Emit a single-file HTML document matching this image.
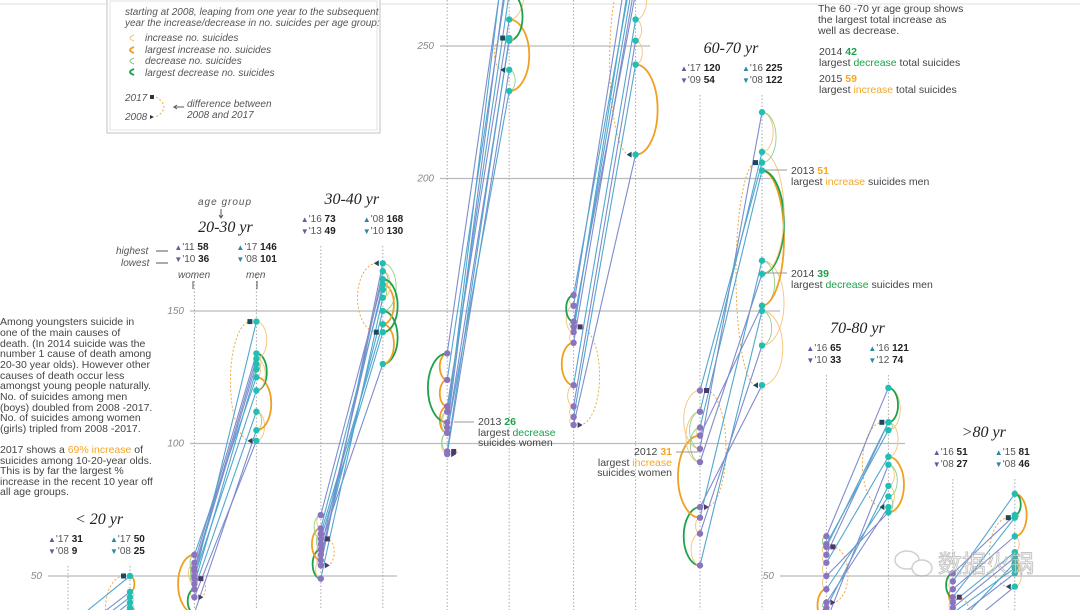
<!DOCTYPE html>
<html><head><meta charset="utf-8">
<style>
html,body{margin:0;background:#fff;width:1080px;height:610px;overflow:hidden;font-family:"Liberation Sans",sans-serif;}
svg{display:block}
.t{font-size:10.5px;fill:#444}
.it{font-style:italic;font-size:10px;fill:#555}
.ttl{font-family:"Liberation Serif",serif;font-style:italic;font-size:16px;fill:#222}
.st{font-size:10px;fill:#555}
.b{font-weight:bold;fill:#222}
.ax{font-style:italic;font-size:10px;fill:#888}
</style></head><body>
<svg id="chart" width="1080" height="610" viewBox="0 0 1080 610">
<line x1="0" y1="4" x2="1080" y2="4" stroke="#ddd"/>
<g id="grid"></g>
<g id="marks"></g>
<g>
<rect x="107" y="-2" width="273" height="135" fill="#fff" stroke="#ccc" stroke-width="1.2"/>
<rect x="110" y="1" width="267" height="129" fill="none" stroke="#e2e2e2"/>
<text class="it" x="125" y="15">starting at 2008, leaping from one year to the subsequent</text>
<text class="it" x="125" y="26">year the increase/decrease in no. suicides per age group:</text>
<path d="M134 35 q-8 3 0 6" fill="none" stroke="#f6c27a" stroke-width="1"/><text class="it" x="145" y="41">increase no. suicides</text>
<path d="M134 47 q-8 3 0 6" fill="none" stroke="#f0a020" stroke-width="2"/><text class="it" x="145" y="53">largest increase no. suicides</text>
<path d="M134 58 q-8 3 0 6" fill="none" stroke="#7cc87a" stroke-width="1"/><text class="it" x="145" y="64">decrease no. suicides</text>
<path d="M134 69 q-8 3 0 6" fill="none" stroke="#1ca24a" stroke-width="2"/><text class="it" x="145" y="76">largest decrease no. suicides</text>
<text class="it" x="125" y="101">2017</text><rect x="150" y="95" width="4" height="4" fill="#333"/>
<text class="it" x="125" y="120">2008</text><path d="M150 115 l4 2 -4 2z" fill="#333"/>
<path d="M156 97 q16 10 0 20" fill="none" stroke="#f0a840" stroke-dasharray="2 2"/>
<text class="it" x="187" y="107">difference between</text><text class="it" x="187" y="118">2008 and 2017</text>
<path d="M184 107 h-10 l3 -2 m-3 2 l3 2" fill="none" stroke="#555"/>
</g>
<g>
<text class="it" x="198" y="205" style="letter-spacing:1px">age group</text>
<path d="M221 209 v9 m-2 -3 l2 3 2 -3" stroke="#555" fill="none"/>
<text class="it" x="116" y="254">highest</text><text class="it" x="121" y="266">lowest</text>
<path d="M156 251 h12 M156 263 h12" stroke="#555"/>
<text class="it" x="178" y="278">women</text><text class="it" x="246" y="278">men</text>
<path d="M193 281 v8 M257 281 v8" stroke="#555"/>
<text class="t" x="0" y="325">Among youngsters suicide in</text>
<text class="t" x="0" y="336">one of the main causes of</text>
<text class="t" x="0" y="347">death. (In 2014 suicide was the</text>
<text class="t" x="0" y="357">number 1 cause of death among</text>
<text class="t" x="0" y="368">20-30 year olds). However other</text>
<text class="t" x="0" y="379">causes of death occur less</text>
<text class="t" x="0" y="389">amongst young people naturally.</text>
<text class="t" x="0" y="400">No. of suicides among men</text>
<text class="t" x="0" y="411">(boys) doubled from 2008 -2017.</text>
<text class="t" x="0" y="421">No. of suicides among women</text>
<text class="t" x="0" y="432">(girls) tripled from 2008 -2017.</text>
<text class="t" x="0" y="453">2017 shows a <tspan fill="#f5a623">69% increase</tspan> of</text>
<text class="t" x="0" y="464">suicides among 10-20-year olds.</text>
<text class="t" x="0" y="474">This is by far the largest %</text>
<text class="t" x="0" y="485">increase in the recent 10 year off</text>
<text class="t" x="0" y="495">all age groups.</text>
<text class="t" x="478" y="425">2013 <tspan font-weight="bold" fill="#1ca24a">26</tspan></text>
<text class="t" x="478" y="436">largest <tspan fill="#1ca24a">decrease</tspan></text>
<text class="t" x="478" y="446">suicides women</text>
<line x1="454" y1="422" x2="474" y2="422" stroke="#999"/>
<text class="t" x="672" y="455" text-anchor="end">2012 <tspan font-weight="bold" fill="#f5a623">31</tspan></text>
<text class="t" x="672" y="466" text-anchor="end">largest <tspan fill="#f5a623">increase</tspan></text>
<text class="t" x="672" y="476" text-anchor="end">suicides women</text>
<line x1="676" y1="452" x2="698" y2="452" stroke="#999"/>
<text class="t" x="818" y="12">The 60 -70 yr age group shows</text>
<text class="t" x="818" y="23">the largest total increase as</text>
<text class="t" x="818" y="34">well as decrease.</text>
<text class="t" x="819" y="55">2014 <tspan font-weight="bold" fill="#1ca24a">42</tspan></text>
<text class="t" x="819" y="66">largest <tspan fill="#1ca24a">decrease</tspan> total suicides</text>
<text class="t" x="819" y="82">2015 <tspan font-weight="bold" fill="#f5a623">59</tspan></text>
<text class="t" x="819" y="93">largest <tspan fill="#f5a623">increase</tspan> total suicides</text>
<text class="t" x="791" y="174">2013 <tspan font-weight="bold" fill="#f5a623">51</tspan></text>
<text class="t" x="791" y="185">largest <tspan fill="#f5a623">increase</tspan> suicides men</text>
<line x1="765" y1="170" x2="787" y2="170" stroke="#999"/>
<text class="t" x="791" y="277">2014 <tspan font-weight="bold" fill="#1ca24a">39</tspan></text>
<text class="t" x="791" y="288">largest <tspan fill="#1ca24a">decrease</tspan> suicides men</text>
<line x1="765" y1="273" x2="787" y2="273" stroke="#999"/>
<g opacity="0.55">
<ellipse cx="907" cy="560" rx="12" ry="9" fill="none" stroke="#aaa" stroke-width="1.5"/>
<ellipse cx="922" cy="568" rx="10" ry="8" fill="#fff" stroke="#aaa" stroke-width="1.5"/>
<text x="938" y="572" font-family="'Noto Sans CJK SC',sans-serif" font-size="24" fill="#fff" stroke="#999" stroke-width="1">数据火锅</text>
</g>
</g>
<g id="labels"></g>
</svg>
<script>
// data: suicides per year 2008..2017 for each age group, women and men
const years = [2008,2009,2010,2011,2012,2013,2014,2015,2016,2017];
const groupNames = ["< 20 yr","20-30 yr","30-40 yr","40-50 yr","50-60 yr","60-70 yr","70-80 yr",">80 yr"];
const women_u20 = [9,14,12,17,20,18,22,24,26,31];
const men_u20 = [25,30,28,33,38,36,40,42,44,50];
const women_20_30 = [42,45,36,58,52,47,55,50,53,49];
const men_20_30 = [101,112,105,125,130,128,134,120,132,146];
const women_30_40 = [54,58,62,66,60,49,56,68,73,64];
const men_30_40 = [168,150,130,145,160,155,165,158,162,142];
const women_40_50 = [96,104,114,124,134,108,106,112,104,97];
const men_40_50 = [241,233,260,280,295,300,285,270,252,253];
const women_50_60 = [107,110,114,122,138,142,152,156,146,144];
const men_50_60 = [209,243,252,260,275,290,300,285,270,280];
const women_60_70 = [76,54,66,72,103,106,93,112,98,120];
const men_60_70 = [122,150,137,169,152,203,164,210,225,206];
const women_70_80 = [40,38,33,45,50,55,58,62,65,61];
const men_70_80 = [76,84,92,80,74,95,108,105,121,108];
const women_80 = [27,30,33,36,38,40,45,48,51,42];
const men_80 = [46,55,51,53,57,59,65,81,73,72];
const womenSeries = [women_u20,women_20_30,women_30_40,women_40_50,women_50_60,women_60_70,women_70_80,women_80];
const menSeries = [men_u20,men_20_30,men_30_40,men_40_50,men_50_60,men_60_70,men_70_80,men_80];
const gridTicks = [50,100,150,200,250];
const statW = [["'17","31","'08"," 9"],["'11","58","'10","36"],["'16","73","'13","49"],null,null,["'17","120","'09"," 54"],["'16","65","'10","33"],["'16","51","'08","27"]];
const statM = [["'17","50","'08","25"],["'17","146","'08","101"],["'08","168","'10","130"],null,null,["'16","225","'08","122"],["'16","121","'12"," 74"],["'15","81","'08","46"]];

const NS="http://www.w3.org/2000/svg";
const y = v => 708.5 - 2.65*v;
const colW = i => 68 + i*126.4;
const colM = i => colW(i) + 62;
function mk(tag, attrs, parent){const e=document.createElementNS(NS,tag);for(const k in attrs)e.setAttribute(k,attrs[k]);parent.appendChild(e);return e;}
const grid=document.getElementById('grid'), marks=document.getElementById('marks'), labels=document.getElementById('labels');
const gridSpans=[[[48,397],[780,1080]],[[190,905]],[[190,780]],[[440,775]],[[440,650]]];
gridTicks.forEach((t,k)=>{
  gridSpans[k].forEach(s=>{
    const l=mk('line',{x1:s[0],x2:s[1],y1:y(t),y2:y(t),stroke:'#bbb','stroke-width':1.2},grid);
    
    
    const tx=mk('text',{x:s[0]-6,y:y(t)+3,'text-anchor':'end',class:'ax'},grid);
    tx.textContent=t;
    
    
  });
});
const titleY=[524,232,204,-50,-50,53,333,437];
// side: -1 = bulge left, 1 = bulge right
function arcPath(x,y1,y2,side,maxW){
  const dy=Math.abs(y2-y1)||1;
  const ry=dy/2, rx=Math.min(Math.max(dy*0.28,4),maxW);
  const down=y2>y1;
  const sweep = side<0 ? (down?0:1) : (down?1:0);
  return `M${x} ${y1} A${rx} ${ry} 0 0 ${sweep} ${x} ${y2}`;
}
function arcs(x,vals,side,g,name){
  const d=vals.map((v,i)=>i?v-vals[i-1]:0).slice(1);
  const maxInc=Math.max(...d), maxDec=Math.min(...d);
  for(let i=1;i<vals.length;i++){
    const inc=vals[i]>vals[i-1];
    const big=(inc&&d[i-1]===maxInc)||(!inc&&d[i-1]===maxDec);
    const p=mk('path',{d:arcPath(x,y(vals[i-1]),y(vals[i]),side,22),fill:'none',
      stroke: inc?(big?'#f0a020':'#f6c27a'):(big?'#1ca24a':'#8fd08a'),'stroke-width':big?1.8:0.9},g);
    
    
  }
  const p=mk('path',{d:arcPath(x-side*6,y(vals[0]),y(vals[vals.length-1]),-side,20),fill:'none',stroke:'#f0a840','stroke-dasharray':'2 2'},g);
  
  
}
womenSeries.forEach((W,gi)=>{
  const M=menSeries[gi], xw=colW(gi), xm=colM(gi);
  const g=mk('g',{},marks);
  
  
  const top=titleY[gi]>0?titleY[gi]+42:0;
  [xw,xm].forEach(x=>{const l=mk('line',{x1:x,x2:x,y1:top,y2:610,stroke:'#aaa','stroke-dasharray':'1.5 2'},g);
    
    });
  arcs(xw,W,-1,g,'women');
  arcs(xm,M,1,g,'men');
  W.forEach((w,i)=>{
    const l=mk('line',{x1:xw,y1:y(w),x2:xm,y2:y(M[i]),stroke:i%2?'#52a6cf':'#7e8ccc','stroke-width':1.1},g);
    
    
  });
  W.forEach((w,i)=>{
    const c=mk('circle',{cx:xw,cy:y(w),r:3.2,fill:'#8a74c0'},g);
    
    
  });
  M.forEach((m,i)=>{
    const c=mk('circle',{cx:xm,cy:y(m),r:3.2,fill:'#22bdb3'},g);
    
    
  });
  const wl=W.length-1;
  const s1=mk('rect',{x:xw+4,y:y(W[wl])-2.5,width:5,height:5,fill:'#4a3a6a'},g);
  
  
  const t1=mk('path',{d:`M${xw+4} ${y(W[0])-3} l5 3 -5 3z`,fill:'#4a3a6a'},g);
  
  
  const s2=mk('rect',{x:xm-9,y:y(M[wl])-2.5,width:5,height:5,fill:'#1c4a5a'},g);
  
  
  const t2=mk('path',{d:`M${xm-4} ${y(M[0])-3} l-5 3 5 3z`,fill:'#1c4a5a'},g);
  
  
  if(titleY[gi]>0){
    const tt=mk('text',{x:(xw+xm)/2,y:titleY[gi],'text-anchor':'middle',class:'ttl'},labels);
    tt.textContent=groupNames[gi];
    
    
    [[statW[gi],xw,'#6a5a9a'],[statM[gi],xm,'#2a8aa0']].forEach(([s,x,c])=>{
      const a=mk('text',{x:x-20,y:titleY[gi]+18,class:'st'},labels);
      a.innerHTML=`<tspan fill="${c}" font-size="8">▲</tspan>${s[0]} <tspan class="b">${s[1]}</tspan>`;
      
      
      const b=mk('text',{x:x-20,y:titleY[gi]+30,class:'st'},labels);
      b.innerHTML=`<tspan fill="${c}" font-size="8">▼</tspan>${s[2]} <tspan class="b">${s[3]}</tspan>`;
      
      
    });
  }
});
</script>
</body></html>
